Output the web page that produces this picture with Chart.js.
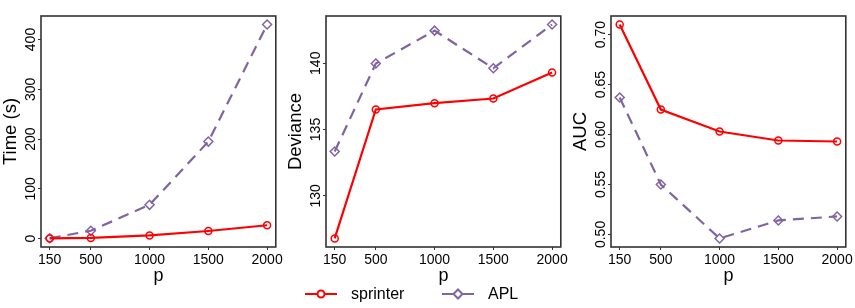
<!DOCTYPE html>
<html>
<head>
<meta charset="utf-8">
<script src="https://cdn.jsdelivr.net/npm/chart.js@4/dist/chart.umd.min.js"></script>
<style>
  body { margin: 0; background: #fff; width: 855px; height: 308px; position: relative; overflow: hidden; }
  canvas { position: absolute; top: 0; }
  #legend { position: absolute; top: 283px; left: 0; width: 855px; height: 22px;
            font: 16px "Liberation Sans", Arial, sans-serif; color: #000; }
  .item { position: absolute; top: 0; display: flex; align-items: center; height: 22px; }
  .item svg { margin-right: 14px; }
</style>
</head>
<body>
<canvas id="c_time" width="285" height="290" style="left:0px"></canvas>
<canvas id="c_dev" width="285" height="290" style="left:285px"></canvas>
<canvas id="c_auc" width="285" height="290" style="left:570px"></canvas>
<div id="legend"></div>
<script>
// values
const pValues = [150, 500, 1000, 1500, 2000];
const seriesNames = ['sprinter', 'APL'];

const timeSprinter = [0.5, 1.5, 6.5, 15.5, 27];
const timeAPL = [1, 16, 68, 195, 430];

const devSprinter = [126.78, 136.51, 136.99, 137.34, 139.3];
const devAPL = [133.34, 139.98, 142.46, 139.62, 142.92];

const aucSprinter = [0.710, 0.625, 0.603, 0.594, 0.593];
const aucAPL = [0.637, 0.550, 0.496, 0.514, 0.518];

const timeTicks = [0, 100, 200, 300, 400];
const devTicks = [130, 135, 140];
const aucTicks = [0.50, 0.55, 0.60, 0.65, 0.70];

const RED = '#FF0000';
const PURPLE = '#8064A2';
const FONT = '"Liberation Sans", Arial, sans-serif';

// R style axis range: data range stretched by 4% on both sides
function rRange(values) {
    const lo = Math.min(...values), hi = Math.max(...values);
    const pad = (hi - lo) * 0.04;
    return [lo - pad, hi + pad];
}

// box around the plot region
const boxPlugin = {
    id: 'box',
    afterDraw(chart) {
        const { ctx, chartArea: a } = chart;
        ctx.save();
        ctx.strokeStyle = '#333';
        ctx.lineWidth = 1.6;
        ctx.strokeRect(a.left, a.top, a.right - a.left, a.bottom - a.top);
        ctx.restore();
    }
};

// y tick labels written parallel to the axis
const yLabelPlugin = {
    id: 'yLabels',
    afterDraw(chart) {
        const s = chart.scales.y;
        const ctx = chart.ctx;
        ctx.save();
        ctx.font = '14px ' + FONT;
        ctx.fillStyle = '#000';
        ctx.textAlign = 'center';
        ctx.textBaseline = 'middle';
        s.ticks.forEach(t => {
            ctx.save();
            ctx.translate(31, s.getPixelForValue(t.value));
            ctx.rotate(-Math.PI / 2);
            ctx.fillText(t.label, 0, 0);
            ctx.restore();
        });
        ctx.restore();
    }
};

function makePanel(id, title, sprinter, apl, yTicks, fmt) {
    const [xmin, xmax] = rRange(pValues);
    const [ymin, ymax] = rRange(sprinter.concat(apl));
    new Chart(document.getElementById(id), {
        type: 'line',
        data: {
            datasets: [
                {
                    label: seriesNames[0],
                    data: pValues.map((p, i) => ({ x: p, y: sprinter[i] })),
                    borderColor: RED,
                    borderWidth: 2.2,
                    pointStyle: 'circle',
                    pointRadius: 3.5,
                    pointBorderWidth: 1.5,
                    pointBorderColor: RED,
                    pointBackgroundColor: 'rgba(0,0,0,0)',
                    tension: 0
                },
                {
                    label: seriesNames[1],
                    data: pValues.map((p, i) => ({ x: p, y: apl[i] })),
                    borderColor: PURPLE,
                    borderWidth: 2.2,
                    borderDash: [11, 7],
                    pointStyle: 'rectRot',
                    pointRadius: 4.5,
                    pointBorderWidth: 1.5,
                    pointBorderColor: PURPLE,
                    pointBackgroundColor: 'rgba(0,0,0,0)',
                    tension: 0
                }
            ]
        },
        options: {
            responsive: false,
            animation: false,
            layout: { padding: { top: 16, right: 9, left: 0, bottom: 0 } },
            plugins: { legend: { display: false }, tooltip: { enabled: false } },
            scales: {
                x: {
                    type: 'linear',
                    min: xmin,
                    max: xmax,
                    afterBuildTicks: s => { s.ticks = pValues.map(v => ({ value: v })); },
                    afterFit: s => { s.height = 43; },
                    grid: { drawOnChartArea: false, drawTicks: true, tickLength: 3, color: '#333' },
                    border: { display: false },
                    ticks: {
                        color: '#000', padding: 2, maxRotation: 0, autoSkip: false,
                        font: { family: FONT, size: 14 },
                        callback: v => String(v)
                    },
                    title: {
                        display: true, text: 'p', color: '#000',
                        font: { family: FONT, size: 18 },
                        padding: { top: 0, bottom: 3 }
                    }
                },
                y: {
                    type: 'linear',
                    min: ymin,
                    max: ymax,
                    afterBuildTicks: s => { s.ticks = yTicks.map(v => ({ value: v })); },
                    afterFit: s => { s.width = 41; },
                    grid: { drawOnChartArea: false, drawTicks: true, tickLength: 3, color: '#333' },
                    border: { display: false },
                    ticks: { display: false, callback: fmt },
                    title: {
                        display: true, text: title, color: '#000',
                        font: { family: FONT, size: 18.5 },
                        padding: { top: 0, bottom: 0 }
                    }
                }
            }
        },
        plugins: [boxPlugin, yLabelPlugin]
    });
}

makePanel('c_time', 'Time (s)', timeSprinter, timeAPL, timeTicks, v => String(v));
makePanel('c_dev', 'Deviance', devSprinter, devAPL, devTicks, v => String(v));
makePanel('c_auc', 'AUC', aucSprinter, aucAPL, aucTicks, v => v.toFixed(2));

// shared legend below the panels
const legend = document.getElementById('legend');
const legendSpec = [
    { left: 305, color: RED, marker: '<circle cx="16" cy="11" r="3.5" fill="#fff" stroke="' + RED + '" stroke-width="2"/>' },
    { left: 442, color: PURPLE, marker: '<polygon points="16,6.5 20.5,11 16,15.5 11.5,11" fill="#fff" stroke="' + PURPLE + '" stroke-width="2"/>' }
];
seriesNames.forEach((name, i) => {
    const spec = legendSpec[i];
    const el = document.createElement('div');
    el.className = 'item';
    el.style.left = spec.left + 'px';
    el.innerHTML = '<svg width="32" height="22"><line x1="0" y1="11" x2="32" y2="11" stroke="' + spec.color +
        '" stroke-width="2"/>' + spec.marker + '</svg><span>' + name + '</span>';
    legend.appendChild(el);
});
</script>
</body>
</html>
